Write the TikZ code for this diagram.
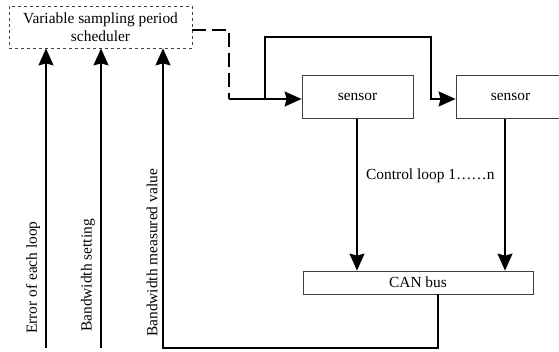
\documentclass[tikz,border=0pt]{standalone}
\usepackage{fontspec}
\setmainfont{Liberation Serif}
\usetikzlibrary{arrows.meta}
\begin{document}
\begin{tikzpicture}[x=1pt,y=-1pt,
  font=\fontsize{15.4}{17.5}\selectfont,
  box/.style={draw=black!75,line width=0.8pt,inner sep=0pt,align=center},
  conn/.style={line width=1.4pt,black},
  arr/.style={conn,-{Stealth[length=17pt,width=15pt,inset=2pt]}},
  lbl/.style={rotate=90,anchor=west,inner sep=0pt}]
\clip (0,0) rectangle (559,352);
\node[box,dashed,minimum width=183pt,minimum height=42pt] (sched) at (100.5,27) {Variable sampling period\\scheduler};
\node[box,minimum width=111pt,minimum height=43pt] (s1) at (357.5,97) {sensor};
\node[box,minimum width=109pt,minimum height=43pt] (s2) at (510.5,97) {sensor};
\node[box,minimum width=230pt,minimum height=23pt] (can) at (418,282.5) {CAN bus};
\coordinate (d1) at (229,30);
\coordinate (d2) at (229,99);
\coordinate (j) at (265,99);
\coordinate (t1) at (265,37);
\coordinate (t2) at (431,37);
\coordinate (t3) at (431,99);
\coordinate (b1) at (46,348);
\coordinate (b2) at (101,348);
\coordinate (b3) at (163,348);
\coordinate (b4) at (438,348);
\coordinate (v1) at (357,0);
\coordinate (v2) at (505,0);
% dashed scheduler output
\draw[conn,dash pattern=on 14pt off 6pt] (sched.east |- d1) -- (d1) -- (d2);
\draw[arr] (d2) -- (s1.west |- d2);
\draw[arr] (j) -- (t1) -- (t2) -- (t3) -- (s2.west |- t3);
% sensors to CAN
\draw[arr] (s1.south -| v1) -- (v1 |- can.north);
\draw[arr] (s2.south -| v2) -- (v2 |- can.north);
% inputs to scheduler
\draw[arr] (b1) -- (b1 |- sched.south);
\draw[arr] (b2) -- (b2 |- sched.south);
\draw[arr] (can.south -| b4) -- (b4) -- (b3) -- (b3 |- sched.south);
% labels
\node[anchor=west,inner sep=0pt] (cl) at (366,176) {Control loop 1……n};
\node[lbl] (e1) at (33,334) {Error of each loop};
\node[lbl] (e2) at (88,332) {Bandwidth setting};
\node[lbl] (e3) at (152,337) {Bandwidth measured value};
\end{tikzpicture}
\end{document}
